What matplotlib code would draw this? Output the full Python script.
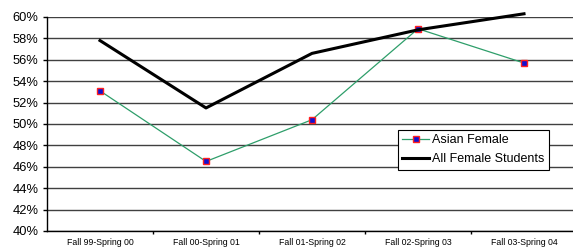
import numpy as np
import matplotlib.pyplot as plt

plt.rcParams['font.family'] = ['Liberation Sans', 'DejaVu Sans']

terms = ['Fall 99-Spring 00', 'Fall 00-Spring 01', 'Fall 01-Spring 02',
         'Fall 02-Spring 03', 'Fall 03-Spring 04']
asian_female = [53.1, 46.5, 50.4, 58.9, 55.7]
all_female = [57.8, 51.5, 56.6, 58.8, 60.3]

fig = plt.figure(figsize=(5.73, 2.48), dpi=100)
ax = fig.add_axes([47/573, 1-231/248, 530/573, 214/248])

x = np.arange(len(terms))
ax.plot(x, asian_female, '-', color='#2e9e6a', lw=0.9, marker='s', ms=4.5,
        mfc='#1010d0', mec='#ff2020', mew=1.0, label='Asian Female', zorder=3)
ax.plot(x, all_female, '-', color='black', lw=2.2, label='All Female Students',
        clip_on=False, zorder=4)

ax.set_xlim(-0.5, 4.5)
ax.set_ylim(40, 60)
ax.set_yticks(np.arange(40, 61, 2))
ax.set_yticklabels(['%d%%' % v for v in range(40, 61, 2)], fontsize=9.3)
ax.yaxis.grid(True, color='#404040', lw=1.0)
ax.set_axisbelow(True)

ax.set_xticks(x)
ax.set_xticklabels(terms, fontsize=6.3)
ax.tick_params(axis='x', length=0, pad=5)
ax.set_xticks(np.arange(0.5, 4.5, 1), minor=True)
ax.tick_params(axis='x', which='minor', length=2.5, direction='out', width=1)
ax.tick_params(axis='y', length=3, direction='out', width=1, pad=3)

for s in ['top', 'right']:
    ax.spines[s].set_visible(False)
ax.spines['left'].set_linewidth(1.0)
ax.spines['bottom'].set_linewidth(1.0)

leg = ax.legend(loc='upper left', bbox_to_anchor=(351/530, 1-113/214), fontsize=9,
                frameon=True, fancybox=False, framealpha=1, edgecolor='black',
                handlelength=2.1, handletextpad=0.3, borderpad=0.35, labelspacing=0.55,
                borderaxespad=0)
leg.get_frame().set_linewidth(0.8)

fig.savefig('out.png', dpi=100)
